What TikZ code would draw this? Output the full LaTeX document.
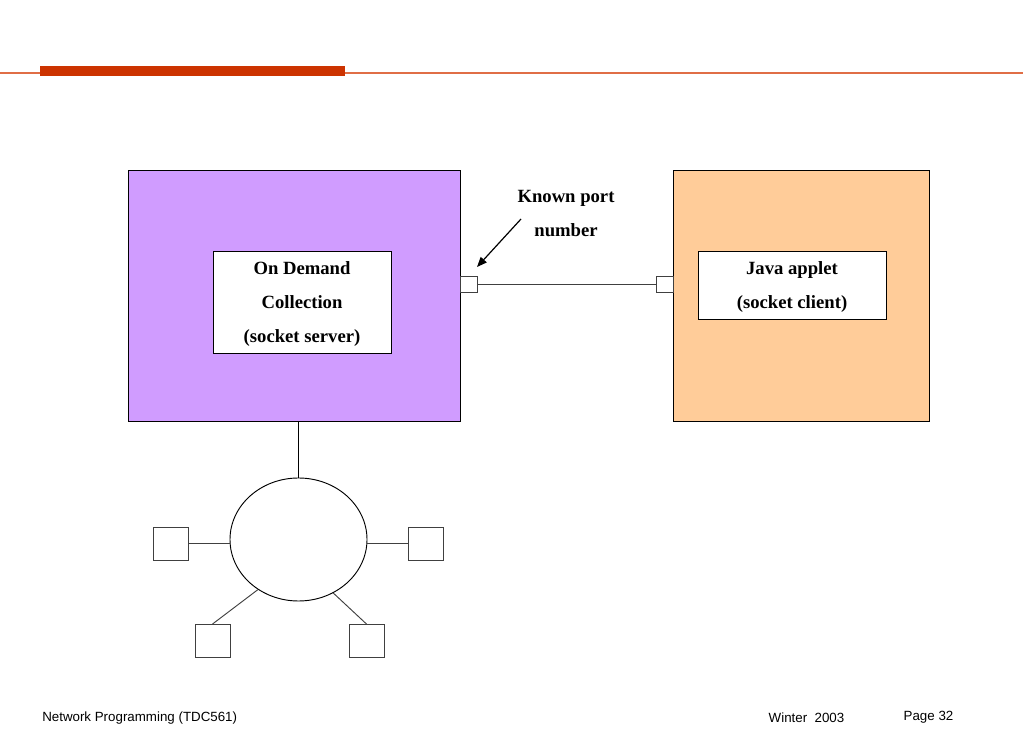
\documentclass[tikz,border=0pt]{standalone}
\usepackage{fontspec}
\setmainfont{Liberation Serif}
\newfontfamily\footfont{Liberation Sans}
\usepackage{tikz}
\usetikzlibrary{arrows.meta,shapes.geometric}
\definecolor{serverfill}{RGB}{208,156,255}
\definecolor{clientfill}{RGB}{255,204,153}
\definecolor{barred}{RGB}{204,51,0}
\definecolor{rulered}{RGB}{224,110,70}

\begin{document}
\begin{tikzpicture}[x=0.75pt,y=0.75pt,
  hostbox/.style={draw=black,line width=0.7pt,inner sep=0pt,minimum height=188.25pt},
  progbox/.style={draw=black,line width=0.7pt,fill=white,inner sep=0pt,align=center,
    text depth=0pt,font={\bfseries\fontsize{14}{25.5}\selectfont}},
  portbox/.style={draw=black!75,line width=0.7pt,fill=white,inner sep=0pt,
    minimum width=12.75pt,minimum height=12pt},
  termbox/.style={draw=black!75,line width=0.7pt,inner sep=0pt,
    minimum width=26.25pt,minimum height=24.75pt},
  wire/.style={draw=black!75,line width=0.7pt}]
  \useasboundingbox (0,0) rectangle (1023,731);
  % title rule
  \draw[rulered,line width=1.1pt] (0,658) -- (1023,658);
  \fill[barred] (40,655) rectangle (345,665);
  % hosts
  \node[hostbox,fill=serverfill,minimum width=249pt] (server) at (294,435.5) {};
  \node[hostbox,fill=clientfill,minimum width=192pt] (client) at (801,435.5) {};
  \node[progbox,minimum width=133.5pt,minimum height=76.5pt] (odc) at (302,429)
    {On Demand\\Collection\\(socket server)};
  \node[progbox,minimum width=141pt,minimum height=51pt] (applet) at (792,446)
    {Java applet\\(socket client)};
  % sockets
  \node[portbox] (sport) at (468.5,447) {};
  \node[portbox] (cport) at (664.5,447) {};
  \draw[wire] (sport) -- (cport);
  \node[align=center,font={\bfseries\fontsize{14}{25.5}\selectfont}] (known) at (566,517)
    {Known port\\number};
  \coordinate (arrtail) at (521,512);
  \coordinate (arrtip) at (477,464);
  \draw[line width=0.9pt,-{Triangle[length=7.5pt,width=6pt]}] (arrtail) -- (arrtip);
  % local network
  \node[ellipse,draw=black,line width=0.7pt,inner sep=0pt,
    minimum width=102.75pt,minimum height=92.25pt] (hub) at (298.5,191.5) {};
  \draw[line width=0.7pt] (hub.north) -- (hub.north |- server.south);
  \node[termbox] (lterm) at (170.5,187.5) {};
  \node[termbox] (rterm) at (426,187.5) {};
  \node[termbox] (blterm) at (212.5,90) {};
  \node[termbox] (brterm) at (366.5,90) {};
  \draw[wire] (lterm.east) -- (lterm.east -| hub.west);
  \draw[wire] (rterm.west) -- (rterm.west -| hub.east);
  \draw[wire] (hub.231) -- (blterm.north);
  \draw[wire] (hub.303) -- (brterm.north);
  % footer
  \node[anchor=west,inner sep=0pt,font=\footfont\fontsize{10}{12}\selectfont] (course) at (42,13)
    {Network Programming (TDC561)};
  \node[inner sep=0pt,font=\footfont\fontsize{10}{12}\selectfont] (term) at (806.5,13)
    {Winter~~2003};
  \node[inner sep=0pt,font=\footfont\fontsize{10}{12}\selectfont] (page) at (928.5,14)
    {Page 32};
\end{tikzpicture}
\end{document}
